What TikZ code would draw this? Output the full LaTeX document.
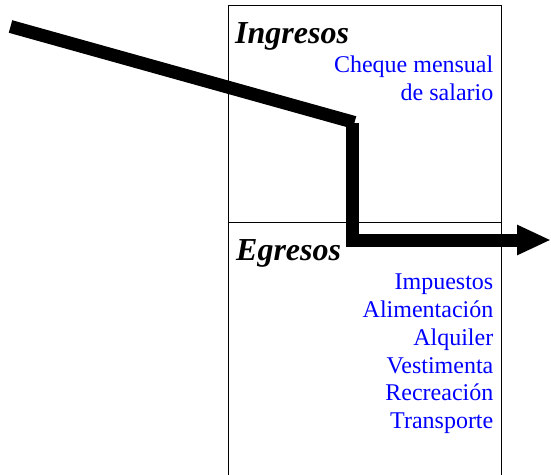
\documentclass[tikz,border=0pt]{standalone}
\usepackage{fontspec}
\setmainfont{Liberation Serif}
\usetikzlibrary{arrows.meta}
\definecolor{itemblue}{RGB}{0,0,255}
\begin{document}
\begin{tikzpicture}[x=1pt,y=-1pt,
  frame/.style={line width=1pt,draw=black},
  flow/.style={line width=13pt,line join=miter,line cap=butt},
  flowarrow/.style={flow,-{Triangle[length=34pt,width=28pt]}},
  head/.style={font=\fontsize{32}{36}\selectfont\bfseries\itshape,inner sep=0pt,anchor=base west},
  item/.style={font=\fontsize{24}{28}\selectfont,text=itemblue,inner sep=0pt,anchor=base east}]
\useasboundingbox (0,0) rectangle (551,474);
% frame
\coordinate (bl) at (228.3,476);
\coordinate (tl) at (228.3,5.3);
\coordinate (tr) at (501.7,5.3);
\coordinate (br) at (501.7,476);
\coordinate (ml) at (228.3,222);
\coordinate (mr) at (501.7,222);
\draw[frame] (bl) -- (tl) -- (tr) -- (br);
\draw[frame] (ml) -- (mr);
% texts
\node[head] (ing) at (235,43) {Ingresos};
\node[item] (i1) at (493.5,72) {Cheque mensual};
\node[item] (i2) at (493.5,100) {de salario};
\node[head] (egr) at (236,260) {Egresos};
\node[item] (e1) at (493.5,289) {Impuestos};
\node[item] (e2) at (493.5,317) {Alimentación};
\node[item] (e3) at (493.5,345) {Alquiler};
\node[item] (e4) at (493.5,373) {Vestimenta};
\node[item] (e5) at (493.5,400.5) {Recreación};
\node[item] (e6) at (493.5,428.5) {Transporte};
% flow line
\coordinate (start) at (10.5,26.5);
\coordinate (dend) at (354.5,122.5);
\coordinate (c1) at (352.5,123);
\coordinate (c2) at (352.5,240);
\coordinate (tip) at (551,240);
\draw[flow] (start) -- (dend);
\draw[flowarrow] (c1) -- (c2) -- (tip);
\end{tikzpicture}
\end{document}
